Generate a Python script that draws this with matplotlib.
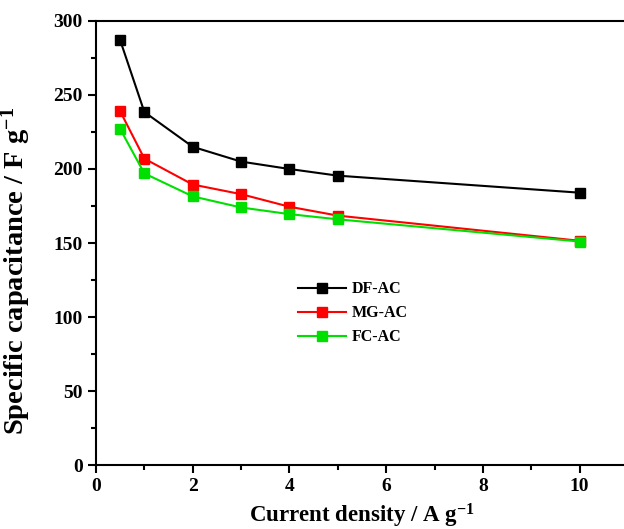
import matplotlib
matplotlib.use("Agg")
import matplotlib.pyplot as plt
from matplotlib.ticker import MultipleLocator

current = [0.5, 1, 2, 3, 4, 5, 10]
df_ac = [287, 238.5, 215, 205, 200, 195.5, 184]
mg_ac = [239, 207, 189.5, 183, 174.5, 168.5, 151.5]
fc_ac = [227, 197, 181.5, 174, 169.5, 166, 151]
series = [("DF-AC", df_ac, "#000000"), ("MG-AC", mg_ac, "#ff0000"), ("FC-AC", fc_ac, "#00e000")]

plt.rcParams['font.family'] = ['Liberation Serif', 'DejaVu Serif']
plt.rcParams['font.weight'] = 'bold'
plt.rcParams['mathtext.fontset'] = 'custom'
plt.rcParams['mathtext.rm'] = 'Liberation Serif:bold'
plt.rcParams['mathtext.bf'] = 'Liberation Serif:bold'
plt.rcParams['mathtext.it'] = 'Liberation Serif:bold'

fig = plt.figure(figsize=(6.24, 5.29), dpi=100)
ax = fig.add_axes([96/624, 64/529, 532/624, 444/529])

for name, vals, col in series:
    ax.plot(current, vals, '-s', color=col, lw=1.5, ms=7.5, mec=col, label=name)

ax.set_xlim(0, 11)
ax.set_ylim(0, 300)
ax.xaxis.set_major_locator(MultipleLocator(2))
ax.xaxis.set_minor_locator(MultipleLocator(1))
ax.yaxis.set_major_locator(MultipleLocator(50))
ax.yaxis.set_minor_locator(MultipleLocator(25))
ax.tick_params(which='major', direction='out', length=6, width=1.5, labelsize=14)
ax.tick_params(which='minor', direction='out', length=3.5, width=1.5)
ax.set_xticks([0, 2, 4, 6, 8, 10])
for lab in ax.get_xticklabels() + ax.get_yticklabels():
    lab.set_fontweight('bold')
for s in ax.spines.values():
    s.set_linewidth(1.5)

ax.set_xlabel("Current density / A g$^{-1}$", fontsize=16.5, fontweight='bold')
ax.set_ylabel("Specific capacitance / F g$^{-1}$", fontsize=20.5, fontweight='bold')
ax.xaxis.set_label_coords(0.5, -0.082)
ax.yaxis.set_label_coords(-0.118, 0.437)

leg = ax.legend(loc='upper left', bbox_to_anchor=(284/624, 1-267/529), bbox_transform=fig.transFigure,
                frameon=False, handlelength=3.0, handletextpad=0.35, labelspacing=0.5,
                prop={'weight': 'bold', 'size': 11.5})
fig.savefig("out.png", dpi=100)
